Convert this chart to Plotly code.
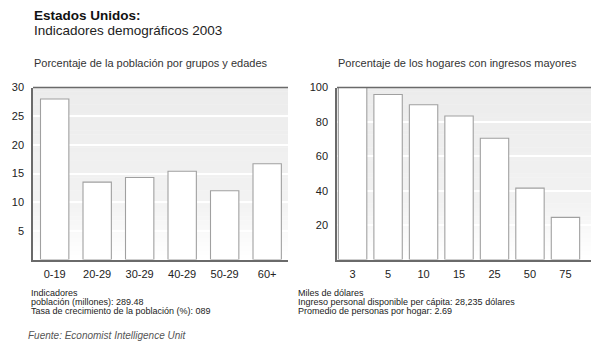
import plotly.graph_objects as go

W, H = 593, 345

age_groups = ["0-19", "20-29", "30-29", "40-29", "50-29", "60+"]
age_pct = [28.0, 13.5, 14.3, 15.4, 12.0, 16.7]
age_ticks = [5, 10, 15, 20, 25, 30]

income_levels = ["3", "5", "10", "15", "25", "50", "75"]
income_pct = [100, 96, 90, 83.5, 70.5, 41.5, 24.5]
income_ticks = [20, 40, 60, 80, 100]

FONT = "Arial, Liberation Sans, Helvetica, sans-serif"

def px_x(p):
    return p / W

def px_y(p):
    return 1 - p / H

fig = go.Figure()

fig.add_trace(go.Bar(
    x=list(range(len(age_groups))), y=age_pct,
    marker=dict(color="white", line=dict(color="#a0a0a0", width=1.1)),
    width=0.667, xaxis="x", yaxis="y", showlegend=False, hoverinfo="skip"))

fig.add_trace(go.Bar(
    x=list(range(len(income_levels))), y=income_pct,
    marker=dict(color="white", line=dict(color="#a0a0a0", width=1.1)),
    width=0.80, xaxis="x2", yaxis="y2", showlegend=False, hoverinfo="skip"))

axis_common = dict(showgrid=False, zeroline=False, ticks="",
                   tickfont=dict(family=FONT, size=11, color="#222"),
                   showline=True, linecolor="#6a6a6a", linewidth=1.5)

fig.update_layout(
    width=W, height=H,
    margin=dict(l=0, r=0, t=0, b=0),
    paper_bgcolor="white", plot_bgcolor="rgba(0,0,0,0)",
    font=dict(family=FONT, color="#222"),
    xaxis=dict(domain=[px_x(33), px_x(288)], range=[-0.51, 5.49],
               tickvals=list(range(len(age_groups))), ticktext=age_groups,
               anchor="y", ticklabelstandoff=4, **axis_common),
    yaxis=dict(domain=[px_y(258), px_y(83)], range=[0, 30],
               tickvals=age_ticks, anchor="x", ticklabelstandoff=5,
               **{**axis_common, "showgrid": True, "gridcolor": "white", "gridwidth": 1.5}),
    xaxis2=dict(domain=[px_x(337), px_x(591)], range=[-0.44, 6.72],
                tickvals=list(range(len(income_levels))), ticktext=income_levels,
                anchor="y2", ticklabelstandoff=4, **axis_common),
    yaxis2=dict(domain=[px_y(258), px_y(83)], range=[0, 100],
                tickvals=income_ticks, anchor="x2", ticklabelstandoff=5,
                **{**axis_common, "showgrid": True, "gridcolor": "white", "gridwidth": 1.5}),
)

# gradient background bands (below grid)
N = 40
def grad(t):  # t=0 top, 1 bottom
    if t < 0.65:
        v = 236 + (242 - 236) * t / 0.65
    else:
        v = 242 + (255 - 242) * (t - 0.65) / 0.35
    v = int(round(v))
    return f"rgb({v},{v},{v})"

shapes = []
for xr, yr in (("x domain", "y domain"), ("x2 domain", "y2 domain")):
    for i in range(N):
        y1 = 1 - i / N
        y0 = 1 - (i + 1) / N
        shapes.append(dict(type="rect", xref=xr, yref=yr, x0=0, x1=1, y0=y0, y1=y1 + 0.002,
                           fillcolor=grad((i + 0.5) / N), line=dict(width=0), layer="below"))
    # top border line
    shapes.append(dict(type="line", xref=xr, yref=yr, x0=0, x1=1, y0=1, y1=1,
                       line=dict(color="#6a6a6a", width=1.5), layer="above"))
fig.update_layout(shapes=shapes)

ann = []
def text(x, y, s, size, color="#222", **kw):
    ann.append(dict(x=px_x(x), y=px_y(y), xref="paper", yref="paper", text=s,
                    showarrow=False, xanchor="left", yanchor="middle",
                    font=dict(family=FONT, size=size, color=color), **kw))

text(32, 10, "<b>Estados Unidos:</b>", 13.5, "#111")
text(32, 25, "Indicadores demográficos 2003", 13.5, "#222")
text(32, 58, "Porcentaje de la población por grupos y edades", 11, "#333")
text(336, 58, "Porcentaje de los hogares con ingresos mayores", 11, "#333")

text(29, 292, "Indicadores", 9)
text(29, 301, "población (millones): 289.48", 9)
text(29, 310, "Tasa de crecimiento de la población (%): 089", 9)

text(296, 292, "Miles de dólares", 9)
text(296, 301, "Ingreso personal disponible per cápita: 28,235 dólares", 9)
text(296, 310, "Promedio de personas por hogar: 2.69", 9)

text(26, 335, "<i>Fuente: Economist Intelligence Unit</i>", 10, "#555")

fig.update_layout(annotations=ann)

fig.write_html("out.html")
